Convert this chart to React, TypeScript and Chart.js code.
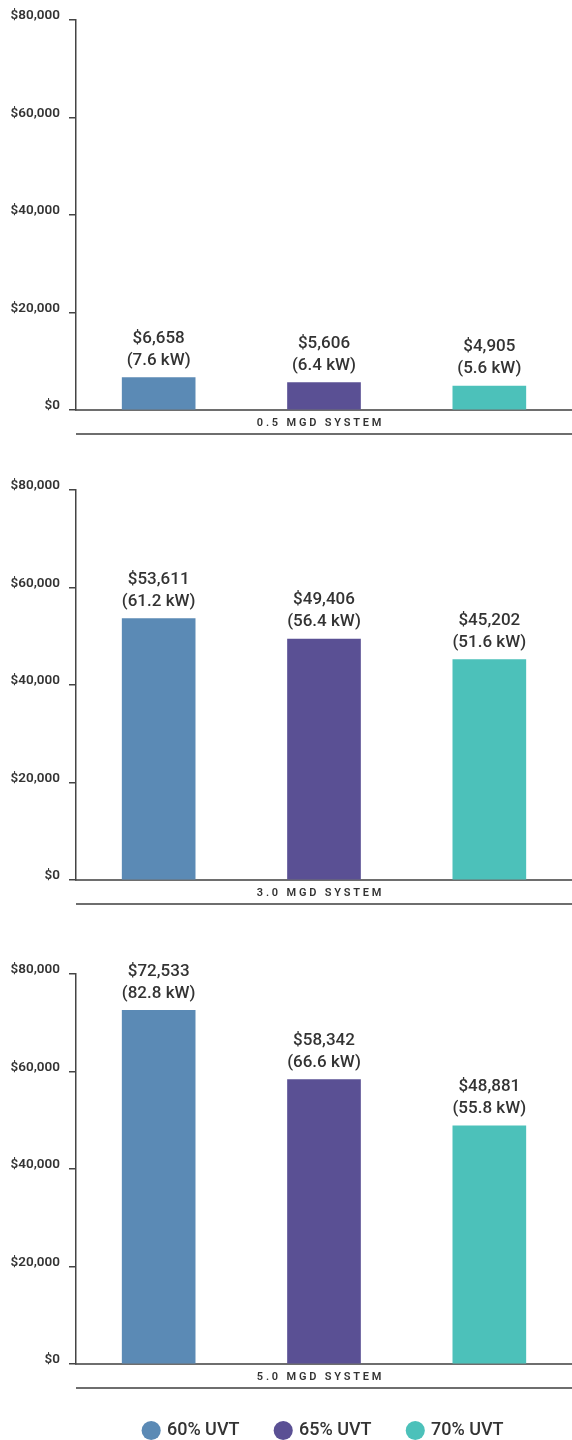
import React, { useEffect, useRef } from 'react';
import { Chart, registerables } from 'chart.js';

Chart.register(...registerables);

// ---------- data ----------
const categories = ['60% UVT', '65% UVT', '70% UVT'];
const barColors = ['#5B8AB5', '#5A5094', '#4CC1BA'];
const systemLabels = ['0.5 MGD SYSTEM', '3.0 MGD SYSTEM', '5.0 MGD SYSTEM'];

const cost05 = [6658, 5606, 4905];
const kw05 = [7.6, 6.4, 5.6];
const cost30 = [53611, 49406, 45202];
const kw30 = [61.2, 56.4, 51.6];
const cost50 = [72533, 58342, 48881];
const kw50 = [82.8, 66.6, 55.8];

const yMin = 0;
const yMax = 80000;
const yStep = 20000;

const FONT = 'Roboto, "Open Sans", "DejaVu Sans", sans-serif';
const TEXT = '#333333';

const fmtMoney = (v: number) => '$' + Number(v).toLocaleString('en-US');

const valueLabelPlugin = {
  id: 'valueLabels',
  afterDatasetsDraw(chart: any, _args: any, opts: any) {
    const { ctx } = chart;
    const meta = chart.getDatasetMeta(0);
    const values = chart.data.datasets[0].data as number[];
    const kw = (opts && opts.kw) || [];
    ctx.save();
    ctx.fillStyle = TEXT;
    ctx.font = `500 17px ${FONT}`;
    ctx.textAlign = 'center';
    ctx.textBaseline = 'middle';
    meta.data.forEach((bar: any, i: number) => {
      ctx.fillText(fmtMoney(values[i]), bar.x, bar.y - 39);
      ctx.fillText(`(${kw[i].toFixed(1)} kW)`, bar.x, bar.y - 17);
    });
    ctx.restore();
  },
};

const bandPlugin = {
  id: 'systemBand',
  afterDraw(chart: any, _args: any, opts: any) {
    const { ctx, chartArea } = chart;
    const y0 = chart.scales.y.getPixelForValue(0);
    ctx.save();
    ctx.strokeStyle = '#6e6e6e';
    ctx.lineWidth = 2;
    ctx.beginPath();
    ctx.moveTo(chartArea.left, y0 + 24);
    ctx.lineTo(chartArea.right, y0 + 24);
    ctx.stroke();
    ctx.fillStyle = TEXT;
    ctx.font = `600 11px ${FONT}`;
    try {
      (ctx as any).letterSpacing = '2.8px';
    } catch (e) {}
    ctx.textAlign = 'center';
    ctx.textBaseline = 'middle';
    ctx.fillText(opts.text, (chartArea.left + chartArea.right) / 2 - 3.5, y0 + 13.5);
    ctx.restore();
  },
};

type Props = {
  costs: number[];
  kw: number[];
  system: string;
  height: number;
  xHeight: number;
  padBottom: number;
  legend?: boolean;
};

function BarPanel({ costs, kw, system, height, xHeight, padBottom, legend }: Props) {
  const ref = useRef<HTMLCanvasElement | null>(null);
  useEffect(() => {
    if (!ref.current) return;
    const chart = new Chart(ref.current, {
      type: 'bar',
      data: {
        labels: categories,
        datasets: [
          {
            data: costs,
            backgroundColor: barColors,
            borderWidth: 0,
            barThickness: 73,
          },
        ],
      },
      options: {
        animation: false,
        responsive: true,
        maintainAspectRatio: false,
        layout: { padding: { top: 20, bottom: padBottom, left: 0, right: 0 } },
        scales: {
          x: {
            grid: { display: false, drawTicks: false },
            ticks: { display: false },
            border: { display: true, color: '#6e6e6e', width: 2 },
            afterFit: (s: any) => {
              s.height = xHeight;
            },
          },
          y: {
            min: yMin,
            max: yMax,
            ticks: {
              stepSize: yStep,
              color: TEXT,
              padding: 9,
              labelOffset: -4,
              font: { family: FONT, size: 13.5, weight: 600 },
              callback: (v: any) => fmtMoney(Number(v)),
            },
            grid: {
              drawOnChartArea: false,
              drawTicks: true,
              tickLength: 7,
              color: '#444444',
              lineWidth: 1.5,
            },
            border: { display: true, color: '#444444', width: 1.5 },
            afterFit: (s: any) => {
              s.width = 76;
            },
          },
        },
        plugins: {
          tooltip: { enabled: false },
          legend: legend
            ? {
                display: true,
                position: 'bottom',
                fullSize: false,
                labels: {
                  usePointStyle: true,
                  boxWidth: 13.5,
                  boxHeight: 13.5,
                  padding: 37,
                  color: TEXT,
                  font: { family: FONT, size: 18, weight: 500 },
                  generateLabels: () =>
                    categories.map((c, i) => ({
                      text: c,
                      fillStyle: barColors[i],
                      strokeStyle: barColors[i],
                      lineWidth: 0,
                      pointStyle: 'circle',
                      hidden: false,
                      index: i,
                      datasetIndex: 0,
                      fontColor: TEXT,
                    })),
                },
              }
            : { display: false },
          valueLabels: { kw },
          systemBand: { text: system },
        } as any,
      },
      plugins: [valueLabelPlugin, bandPlugin],
    } as any);
    return () => chart.destroy();
  }, [costs, kw, system, height, xHeight, padBottom, legend]);

  return (
    <div style={{ position: 'relative', width: 572, height }}>
      <canvas ref={ref} />
    </div>
  );
}

export default function App() {
  return (
    <div
      style={{
        position: 'absolute',
        left: 0,
        top: 0,
        width: 572,
        height: 1440,
        overflow: 'hidden',
        background: '#ffffff',
      }}
    >
      <BarPanel costs={cost05} kw={kw05} system={systemLabels[0]} height={470} xHeight={24} padBottom={36} />
      <BarPanel costs={cost30} kw={kw30} system={systemLabels[1]} height={484} xHeight={24} padBottom={50} />
      <BarPanel costs={cost50} kw={kw50} system={systemLabels[2]} height={496} xHeight={20.5} padBottom={0.5} legend />
    </div>
  );
}
